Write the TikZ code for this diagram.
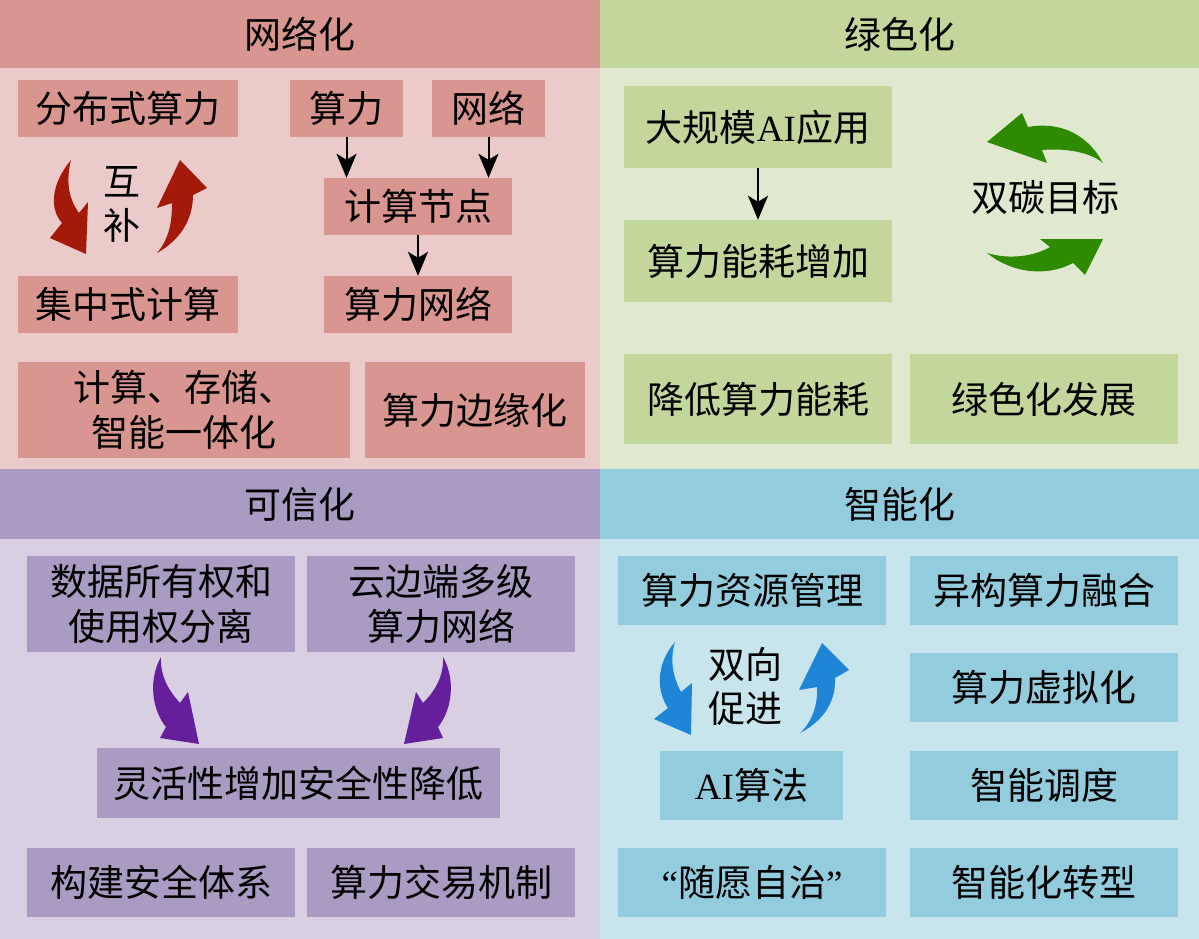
\documentclass[tikz,border=0pt]{standalone}
\usepackage{fontspec}
\usepackage{xcolor}
\usepackage{tikz}
\usetikzlibrary{arrows.meta, positioning}
\newfontfamily\cjk{Noto Sans CJK SC}
\newfontfamily\latin{Liberation Serif}
\definecolor{netdark}{HTML}{D9958F}
\definecolor{netlight}{HTML}{EBCBCA}
\definecolor{netarrow}{HTML}{A41A0A}
\definecolor{grndark}{HTML}{C3D69B}
\definecolor{grnlight}{HTML}{E0E9CF}
\definecolor{grnarrow}{HTML}{2E8B00}
\definecolor{trustdark}{HTML}{A99BC1}
\definecolor{trustlight}{HTML}{D8CFE2}
\definecolor{trustarrow}{HTML}{661F9B}
\definecolor{smartdark}{HTML}{93CDDD}
\definecolor{smartlight}{HTML}{C8E4EC}
\definecolor{smartarrow}{HTML}{1F85D6}

\begin{document}
\begin{tikzpicture}[
    x=1pt, y=-1pt,
    box/.style={rectangle, inner sep=0pt, align=center, font=\cjk\fontsize{37}{45}\selectfont},
    header/.style 2 args={box, fill=#1, minimum width=#2, minimum height=68pt},
    netbox/.style 2 args={box, fill=netdark, minimum width=#1, minimum height=#2},
    grnbox/.style 2 args={box, fill=grndark, minimum width=#1, minimum height=#2},
    trustbox/.style 2 args={box, fill=trustdark, minimum width=#1, minimum height=#2},
    smartbox/.style 2 args={box, fill=smartdark, minimum width=#1, minimum height=#2},
    word/.style={box, font=\cjk\fontsize{37}{44}\selectfont},
    rel/.style={draw=black, line width=2pt, -{Stealth[length=24pt, width=20pt, inset=6pt]}}
]
    \useasboundingbox (0,0) rectangle (1199,939);
    \fill [netlight] (0,68) rectangle (600,469);
    \fill [grnlight] (600,68) rectangle (1199,469);
    \fill [trustlight] (0,539) rectangle (600,939);
    \fill [smartlight] (600,539) rectangle (1199,939);

    \node [header={netdark}{600pt}] (hnet) at (300,34) {网络化};
    \node [header={grndark}{599pt}] (hgrn) at (899.5,34) {绿色化};
    \node [header={trustdark}{600pt}, minimum height=70pt] (htrust) at (300,504) {可信化};
    \node [header={smartdark}{599pt}, minimum height=70pt] (hsmart) at (899.5,504) {智能化};

    \node [netbox={220pt}{57pt}] (fbs) at (128,108.5) {分布式算力};
    \node [netbox={220pt}{57pt}] (jzs) at (128,304.5) {集中式计算};
    \node [netbox={113pt}{57pt}] (sl) at (346.5,108.5) {算力};
    \node [netbox={113pt}{57pt}] (wl) at (488.5,108.5) {网络};
    \node [netbox={188pt}{57pt}] (jsjd) at (418,206.5) {计算节点};
    \node [netbox={188pt}{57pt}] (slwl) at (418,304.5) {算力网络};
    \node [netbox={332pt}{96pt}] (ytt) at (184,410) {计算、存储、\\智能一体化};
    \node [netbox={220pt}{96pt}] (byh) at (475,410) {算力边缘化};
    \node [word] (hb) at (122,204) {互\\补};

    \draw [rel] (sl.south) -- (sl.south |- jsjd.north);
    \draw [rel] (wl.south) -- (wl.south |- jsjd.north);
    \draw [rel] (jsjd) -- (slwl);

    \fill [netarrow] (71,160) .. controls (50,185) and (50,210) .. (62,223) -- (50,238) -- (86,254) -- (88,202) -- (79,213) .. controls (68,198) and (66,180) .. (71,160) -- cycle;
    \fill [netarrow] (157,253) .. controls (180,240) and (193,220) .. (193,195) -- (207,188) -- (180,160) -- (157,208) -- (172,203) .. controls (172,225) and (168,240) .. (157,253) -- cycle;

    \node [grnbox={268pt}{82pt}] (dgm) at (758,127) {大规模{\latin AI}应用};
    \node [grnbox={268pt}{82pt}] (nhzj) at (758,261) {算力能耗增加};
    \node [grnbox={268pt}{90pt}] (jdnh) at (758,399) {降低算力能耗};
    \node [grnbox={268pt}{90pt}] (lsfz) at (1044,399) {绿色化发展};
    \node [word] (stmb) at (1045,197) {双碳目标};

    \draw [rel] (dgm) -- (nhzj);

    \fill [grnarrow] (1103,163) .. controls (1085,130) and (1055,122) .. (1028,127) -- (1022,113) -- (987,142) -- (1047,163) -- (1042,150) .. controls (1065,148) and (1090,152) .. (1103,163) -- cycle;
    \fill [grnarrow] (987,253) .. controls (1010,260) and (1035,256) .. (1050,247) -- (1040,239) -- (1103,239) -- (1085,275) -- (1073,263) .. controls (1045,278) and (1010,272) .. (987,253) -- cycle;

    \node [trustbox={268pt}{96pt}] (sjql) at (161,604) {数据所有权和\\使用权分离};
    \node [trustbox={268pt}{96pt}] (ybd) at (441,604) {云边端多级\\算力网络};
    \node [trustbox={403pt}{70pt}] (lhx) at (298.5,783) {灵活性增加安全性降低};
    \node [trustbox={268pt}{69pt}] (aqtx) at (161,882.5) {构建安全体系};
    \node [trustbox={268pt}{69pt}] (jyjz) at (441,882.5) {算力交易机制};

    \fill [trustarrow] (161,657) .. controls (148,680) and (152,710) .. (166,727) -- (160,738) -- (199,744) -- (188,692) -- (180,703) .. controls (168,690) and (160,675) .. (161,657) -- cycle;
    \fill [trustarrow] (443,657) .. controls (456,680) and (452,710) .. (438,727) -- (443,738) -- (404,744) -- (416,692) -- (423,703) .. controls (436,690) and (444,675) .. (443,657) -- cycle;

    \node [smartbox={268pt}{69pt}] (zygl) at (752,590.5) {算力资源管理};
    \node [smartbox={268pt}{69pt}] (ygrh) at (1044,590.5) {异构算力融合};
    \node [smartbox={268pt}{69pt}] (xnh) at (1044,687.5) {算力虚拟化};
    \node [smartbox={183pt}{69pt}] (ai) at (751.5,785.5) {{\latin AI}算法};
    \node [smartbox={268pt}{69pt}] (ddu) at (1044,785.5) {智能调度};
    \node [smartbox={268pt}{69pt}] (syzz) at (752,882.5) {{\latin “}随愿自治{\latin ”}};
    \node [smartbox={268pt}{69pt}] (zxzx) at (1044,882.5) {智能化转型};
    \node [word] (sxcj) at (745,686) {双向\\促进};

    \fill [smartarrow] (675,642) .. controls (655,665) and (657,692) .. (668,708) -- (654,719) -- (691,735) -- (692,683) -- (681,692) .. controls (672,675) and (670,658) .. (675,642) -- cycle;
    \fill [smartarrow] (800,733) .. controls (825,720) and (836,700) .. (835,678) -- (849,670) -- (822,643) -- (799,690) -- (817,687) .. controls (818,705) and (812,722) .. (800,733) -- cycle;
\end{tikzpicture}
\end{document}
